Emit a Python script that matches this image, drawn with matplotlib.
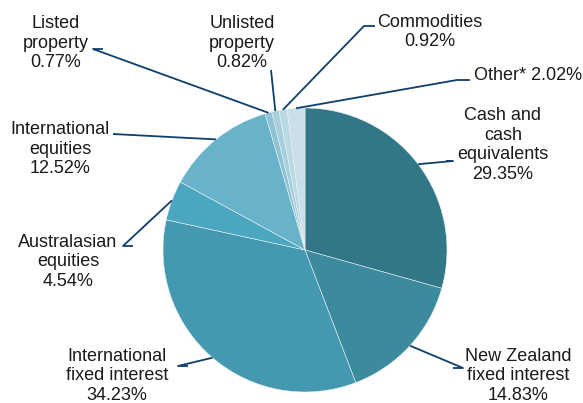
import numpy as np
import matplotlib.pyplot as plt

plt.rcParams['font.family'] = ['Liberation Sans', 'DejaVu Sans']

# asset allocation (%)
categories = ['Cash and\ncash\nequivalents', 'New Zealand\nfixed interest',
              'International\nfixed interest', 'Australasian\nequities',
              'International\nequities', 'Listed\nproperty', 'Unlisted\nproperty',
              'Commodities', 'Other*']
values = [29.35, 14.83, 34.23, 4.54, 12.52, 0.77, 0.82, 0.92, 2.02]
colors = ['#327788', '#3b8a9e', '#4499b0', '#4ba7c0', '#68b3ca',
          '#8dc3d4', '#a6cfdc', '#b9d9e3', '#cadfe8']

# label placement in pixels: text centre (x, y), elbow point (x, y), alignment
label_pos = [
    ((503, 145), (453, 161), 'center'),
    ((518, 376), (463, 368), 'center'),
    ((117, 376), (178, 366), 'center'),
    ((68, 262), (123, 246), 'center'),
    ((60, 149), (113, 134), 'center'),
    ((56, 43), (93, 49), 'center'),
    ((242, 43), (271, 70), 'center'),
    ((430, 32), (364, 26), 'center'),
    ((474, 75), (457, 80), 'left'),
]
elbow_ends = [(446, 161), (453, 368), (188, 366), (133, 246), (113, 134),
              (103, 49), (271, 70), (375, 26), (470, 80)]

W, H = 583, 403
fig = plt.figure(figsize=(W / 100, H / 100), dpi=100)
ax = fig.add_axes([0, 0, 1, 1])
ax.set_xlim(0, W)
ax.set_ylim(0, H)
ax.set_aspect('equal')
ax.axis('off')

cx, cy, r = 305, H - 250, 142
wedges, _ = ax.pie(values, colors=colors, startangle=90, counterclock=False,
                   center=(cx, cy), radius=r,
                   wedgeprops=dict(edgecolor='#e8f0f3', linewidth=0.4))
ax.set_xlim(0, W)
ax.set_ylim(0, H)

line_col = '#0f3f6c'
for w, lab, val, (tpos, elbow, ha), end in zip(wedges, categories, values,
                                                label_pos, elbow_ends):
    ang = np.deg2rad((w.theta1 + w.theta2) / 2)
    px, py = cx + r * np.cos(ang), cy + r * np.sin(ang)
    if lab == 'Other*':
        txt = 'Other* %.2f%%' % val
    else:
        txt = '%s\n%.2f%%' % (lab, val)
    ax.plot([px, elbow[0], end[0]], [py, H - elbow[1], H - end[1]],
            color=line_col, lw=1.3, solid_capstyle='butt')
    ax.text(tpos[0], H - tpos[1], txt, ha=ha, va='center', fontsize=13,
            color='#1a1a1a', linespacing=1.22, multialignment='center')

fig.savefig('out.png', dpi=100)
